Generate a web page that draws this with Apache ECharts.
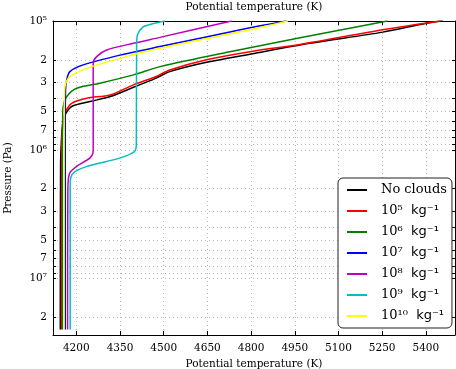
<!DOCTYPE html>
<html><head><meta charset="utf-8">
<script src="https://cdn.jsdelivr.net/npm/echarts@6/dist/echarts.min.js"></script>
<style>html,body{margin:0;padding:0;background:#fff}#c{width:456px;height:369px}</style>
</head><body><div id="c"></div>
<script>
// ---- data (potential temperature K vs pressure Pa) ----
const seriesNames = ['No clouds', '10⁵  kg⁻¹', '10⁶  kg⁻¹', '10⁷  kg⁻¹', '10⁸  kg⁻¹', '10⁹  kg⁻¹', '10¹⁰  kg⁻¹'];

const tNoClouds = [5458, 5402, 5252, 5002, 4796, 4647, 4521, 4470, 4396, 4316, 4247, 4184, 4161, 4154, 4149, 4146, 4145];
const pNoClouds = [1.0e5, 1.04e5, 1.22e5, 1.49e5, 1.81e5, 2.09e5, 2.47e5, 2.80e5, 3.27e5, 3.86e5, 4.22e5, 4.61e5, 5.36e5, 6.07e5, 8.36e5, 1.31e6, 2.48e7];

const t1e5 = [5448, 5252, 4968, 4796, 4647, 4521, 4470, 4396, 4316, 4236, 4184, 4161, 4155, 4150, 4149];
const p1e5 = [1.0e5, 1.17e5, 1.52e5, 1.73e5, 2.0e5, 2.40e5, 2.72e5, 3.13e5, 3.75e5, 3.97e5, 4.35e5, 5.19e5, 6.2e5, 9.0e5, 2.48e7];

const t1e6 = [5268, 4968, 4727, 4487, 4396, 4281, 4201, 4167, 4155, 4153, 4152, 4152];
const p1e6 = [1.0e5, 1.35e5, 1.73e5, 2.26e5, 2.62e5, 3.04e5, 3.33e5, 3.86e5, 4.61e5, 6.0e5, 1.2e6, 2.48e7];

const t1e7 = [4922, 4796, 4487, 4350, 4224, 4178, 4167, 4163, 4162, 4162];
const p1e7 = [1.0e5, 1.13e5, 1.58e5, 1.84e5, 2.19e5, 2.47e5, 2.87e5, 3.43e5, 8.0e5, 2.48e7];

const t1e8 = [4733, 4487, 4396, 4304, 4270, 4258, 4258, 4257, 4246, 4200, 4177, 4171, 4170];
const p1e8 = [1.0e5, 1.34e5, 1.49e5, 1.68e5, 1.89e5, 2.12e5, 9.5e5, 1.06e6, 1.16e6, 1.35e6, 1.52e6, 2.0e6, 2.48e7];

const t1e9 = [4504, 4453, 4429, 4410, 4407, 4406, 4400, 4349, 4234, 4189, 4179, 4179];
const p1e9 = [1.0e5, 1.065e5, 1.11e5, 1.28e5, 1.54e5, 9.1e5, 1.03e6, 1.16e6, 1.35e6, 1.52e6, 1.81e6, 2.48e7];

const t1e10 = [4926, 4796, 4487, 4350, 4236, 4178, 4161, 4159, 4158, 4158];
const p1e10 = [1.0e5, 1.17e5, 1.63e5, 1.95e5, 2.33e5, 2.70e5, 3.23e5, 4.1e5, 8.0e5, 2.48e7];

// ---- axes ----
const xTicks = [4200, 4350, 4500, 4650, 4800, 4950, 5100, 5250, 5400];
const xMin = 4120, xMax = 5500;
const pMin = 1e5, pMax = 2.735e7;
const yLabelPressures = [1e5, 2e5, 3e5, 5e5, 7e5, 1e6, 2e6, 3e6, 5e6, 7e6, 1e7, 2e7];
const yLabelTexts = ['10⁵', '2', '3', '5', '7', '10⁶', '2', '3', '5', '7', '10⁷', '2'];
const yGridPressures = [1e5,2e5,3e5,4e5,5e5,6e5,7e5,8e5,9e5,1e6,2e6,3e6,4e6,5e6,6e6,7e6,8e6,9e6,1e7,2e7];

// ---- styles ----
const colors = ['#000000', '#ff0000', '#008000', '#0000ff', '#bf00bf', '#00bfbf', '#ffff00'];
const SERIF = '"DejaVu Serif", "Liberation Serif", serif';
const SANS = '"DejaVu Sans", sans-serif';

const curveT = [tNoClouds, t1e5, t1e6, t1e7, t1e8, t1e9, t1e10];
const curveP = [pNoClouds, p1e5, p1e6, p1e7, p1e8, p1e9, p1e10];

const lg = Math.log10;
const yLabelVals = yLabelPressures.map(lg);
const yGridVals = yGridPressures.map(lg);

function yFmt(v) {
  let best = -1, bd = 1e9;
  yLabelVals.forEach((lv, i) => { const d = Math.abs(lv - v); if (d < bd) { bd = d; best = i; } });
  return bd < 1e-6 ? yLabelTexts[best] : '';
}

const gridLine = { show: true, lineStyle: { color: '#b8b8b8', width: 1, type: [1, 3] } };
const axisLineStyle = { show: true, onZero: false, lineStyle: { color: '#000', width: 1 } };

const chart = echarts.init(document.getElementById('c'), null, { renderer: 'canvas' });
chart.setOption({
  animation: false,
  backgroundColor: '#ffffff',
  grid: { left: 53, right: 1, top: 21, bottom: 34, containLabel: false, outerBoundsMode: 'none' },
  xAxis: [
    {
      type: 'value', position: 'bottom', min: xMin, max: xMax,
      name: 'Potential temperature (K)', nameLocation: 'middle', nameGap: 24,
      nameTextStyle: { fontFamily: SERIF, fontSize: 10.5, color: '#000' },
      axisLine: axisLineStyle,
      axisTick: { show: true, inside: true, length: 4, customValues: xTicks, lineStyle: { color: '#000' } },
      axisLabel: { show: true, customValues: xTicks, formatter: v => String(Math.round(v)), margin: 8, fontFamily: SERIF, fontSize: 10.5, color: '#000' },
      splitLine: gridLine
    },
    {
      type: 'value', position: 'top', min: xMin, max: xMax,
      name: 'Potential temperature (K)', nameLocation: 'middle', nameGap: 8,
      nameTextStyle: { fontFamily: SERIF, fontSize: 10.5, color: '#000' },
      axisLine: axisLineStyle,
      axisTick: { show: true, inside: true, length: 4, customValues: xTicks, lineStyle: { color: '#000' } },
      axisLabel: { show: false },
      splitLine: { show: false }
    }
  ],
  yAxis: [
    {
      type: 'value', position: 'left', inverse: true, min: lg(pMin), max: lg(pMax),
      name: 'Pressure (Pa)', nameLocation: 'middle', nameGap: 39,
      nameTextStyle: { fontFamily: SERIF, fontSize: 10.5, color: '#000' },
      axisLine: axisLineStyle,
      axisTick: { show: true, inside: true, length: 3, customValues: yGridVals, lineStyle: { color: '#000' } },
      axisLabel: { show: true, customValues: yLabelVals, formatter: yFmt, margin: 6, fontFamily: SERIF, fontSize: 10.5, color: '#000' },
      splitLine: gridLine
    },
    {
      type: 'value', position: 'right', inverse: true, min: lg(pMin), max: lg(pMax),
      axisLine: axisLineStyle,
      axisTick: { show: true, inside: true, length: 3, customValues: yGridVals, lineStyle: { color: '#000' } },
      axisLabel: { show: false },
      splitLine: { show: false }
    }
  ],
  legend: {
    orient: 'vertical', left: 338, top: 178,
    padding: [4, 5, 4, 9],
    itemWidth: 20, itemHeight: 2, itemGap: 5,
    icon: 'rect',
    backgroundColor: '#ffffff', borderColor: '#222', borderWidth: 1, borderRadius: 5,
    data: seriesNames.map((n, i) => ({ name: n, itemStyle: { color: colors[i] } })),
    formatter: function (name) {
      if (name.indexOf('kg') < 0) return '{s|' + name + '}';
      const parts = name.split('  ');
      return '{s|' + parts[0] + '}{g|  ' + parts[1] + '}';
    },
    textStyle: {
      color: '#000', fontSize: 13, lineHeight: 16, padding: [0, 0, 0, 9],
      rich: {
        s: { fontFamily: SERIF, fontSize: 13, color: '#000', lineHeight: 16 },
        g: { fontFamily: SANS, fontSize: 13, color: '#000', lineHeight: 16 }
      }
    }
  },
  series: curveT.map((tArr, i) => ({
    type: 'line', name: seriesNames[i], xAxisIndex: 0, yAxisIndex: 0,
    data: tArr.map((t, j) => [t, lg(curveP[i][j])]),
    symbol: 'none', smooth: 0.3,
    lineStyle: { width: 1.5, color: colors[i] },
    itemStyle: { color: colors[i] },
    z: 2 + i
  }))
});
</script></body></html>
